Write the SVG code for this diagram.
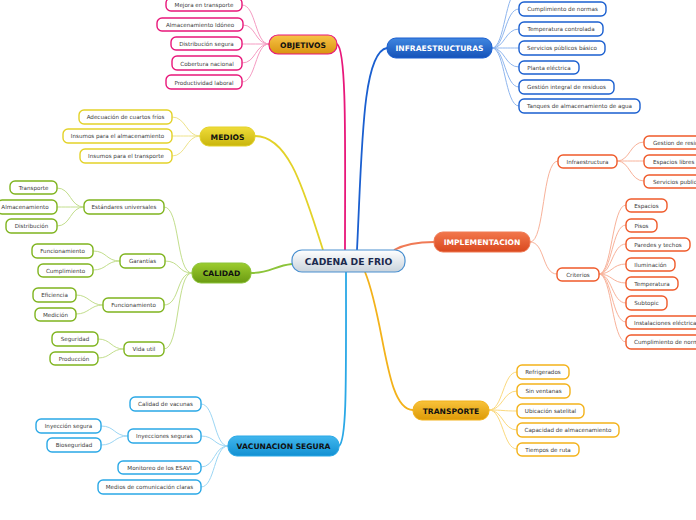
<svg xmlns="http://www.w3.org/2000/svg" width="696" height="520" viewBox="0 0 696 520">
<defs>
<linearGradient id="gC" x1="0" y1="0" x2="0" y2="1"><stop offset="0" stop-color="#ffffff"/><stop offset="1" stop-color="#c9d3dc"/></linearGradient>
<linearGradient id="gObj" x1="0" y1="0" x2="0" y2="1"><stop offset="0" stop-color="#f7c447"/><stop offset="1" stop-color="#d9940f"/></linearGradient>
<linearGradient id="gInf" x1="0" y1="0" x2="0" y2="1"><stop offset="0" stop-color="#3f86e0"/><stop offset="1" stop-color="#1552b8"/></linearGradient>
<linearGradient id="gMed" x1="0" y1="0" x2="0" y2="1"><stop offset="0" stop-color="#efdc3a"/><stop offset="1" stop-color="#c9b50c"/></linearGradient>
<linearGradient id="gCal" x1="0" y1="0" x2="0" y2="1"><stop offset="0" stop-color="#9ccc2e"/><stop offset="1" stop-color="#6a9a12"/></linearGradient>
<linearGradient id="gImp" x1="0" y1="0" x2="0" y2="1"><stop offset="0" stop-color="#f2774c"/><stop offset="1" stop-color="#d9481e"/></linearGradient>
<linearGradient id="gTra" x1="0" y1="0" x2="0" y2="1"><stop offset="0" stop-color="#f8c23a"/><stop offset="1" stop-color="#dd9a06"/></linearGradient>
<linearGradient id="gVac" x1="0" y1="0" x2="0" y2="1"><stop offset="0" stop-color="#41b7ee"/><stop offset="1" stop-color="#1290d2"/></linearGradient>
</defs>
<style>
text{font-family:"DejaVu Sans","Liberation Sans",sans-serif;text-anchor:middle}
.s rect{fill:#fff;stroke-width:1.4}
.s text{font-size:5.6px;fill:#3a3a3a}
.m text{font-size:7.6px;font-weight:bold}
.pk rect{stroke:#e8177a}
.bl rect{stroke:#1a5fd0}
.ye rect{stroke:#e3d228}
.gr rect{stroke:#7fb41e}
.or rect{stroke:#ef5a2a}
.go rect{stroke:#f3b21a}
.cy rect{stroke:#2aa8e6}
#connectors path{fill:none}
.cpk{stroke:#f59bc2;stroke-width:1}
.cbl{stroke:#8fb6ee;stroke-width:1}
.cye{stroke:#eee38a;stroke-width:1}
.cgr{stroke:#c2de8c;stroke-width:1}
.cor{stroke:#f8b29a;stroke-width:1}
.cgo{stroke:#fbd97e;stroke-width:1}
.ccy{stroke:#9cd6f4;stroke-width:1}
</style>
<rect width="696" height="520" fill="#fff"/>
<g id="connectors">
<!-- main branches -->
<path d="M345 250 C345 150 347 50 337 44" stroke="#e8177a" stroke-width="1.8"/>
<path d="M357 250 C362 150 362 52 387 48" stroke="#1a5fd0" stroke-width="1.8"/>
<path d="M255 136 C290 136 305 195 323 250" stroke="#e3d228" stroke-width="1.8"/>
<path d="M251 273 C270 273 274 266 292 264" stroke="#8cc43a" stroke-width="1.8"/>
<path d="M394 250 C405 244 418 242 434 242" stroke="#f07a55" stroke-width="1.8"/>
<path d="M365 272 C385 320 385 410 413 410" stroke="#f3b21a" stroke-width="1.8"/>
<path d="M346 272 C346 380 347 440 339 446" stroke="#2aa8e6" stroke-width="1.8"/>
<!-- OBJETIVOS -->
<path class="cpk" d="M269 44 C255 44 256 5 242 5"/>
<path class="cpk" d="M269 44 C255 44 256 25 243 25"/>
<path class="cpk" d="M269 44 C255 44 256 44 242 44"/>
<path class="cpk" d="M269 44 C255 44 256 63 242 63"/>
<path class="cpk" d="M269 44 C255 44 256 82 242 82"/>
<!-- INFRAESTRUCTURAS -->
<path class="cbl" d="M492 48 C505 48 505 -10 519 -10"/>
<path class="cbl" d="M492 48 C505 48 505 9 519 9"/>
<path class="cbl" d="M492 48 C505 48 505 29 519 29"/>
<path class="cbl" d="M492 48 C505 48 505 48 519 48"/>
<path class="cbl" d="M492 48 C505 48 505 67 519 67"/>
<path class="cbl" d="M492 48 C505 48 505 87 519 87"/>
<path class="cbl" d="M492 48 C505 48 505 106 519 106"/>
<!-- MEDIOS -->
<path class="cye" d="M200 136 C186 136 186 117 172 117"/>
<path class="cye" d="M200 136 C186 136 186 136 172 136"/>
<path class="cye" d="M200 136 C186 136 186 156 172 156"/>
<!-- CALIDAD -->
<path class="cgr" d="M192 273 C176 273 180 207 164 207"/>
<path class="cgr" d="M192 273 C178 273 180 261 165 261"/>
<path class="cgr" d="M192 273 C176 273 180 305 164 305"/>
<path class="cgr" d="M192 273 C176 273 180 349 164 349"/>
<path class="cgr" d="M84 207 C70 207 71 188 57 188"/>
<path class="cgr" d="M84 207 C70 207 71 207 57 207"/>
<path class="cgr" d="M84 207 C70 207 71 226 57 226"/>
<path class="cgr" d="M120 261 C106 261 107 251 93 251"/>
<path class="cgr" d="M120 261 C106 261 107 270 93 270"/>
<path class="cgr" d="M103 305 C90 305 89 295 76 295"/>
<path class="cgr" d="M103 305 C90 305 89 314 76 314"/>
<path class="cgr" d="M124 349 C111 349 111 339 98 339"/>
<path class="cgr" d="M124 349 C111 349 111 358 98 358"/>
<!-- IMPLEMENTACION -->
<path class="cor" d="M530 242 C545 242 542 161 558 161"/>
<path class="cor" d="M530 242 C545 242 542 274 557 274"/>
<path class="cor" d="M617 161 C630 161 630 142 644 142"/>
<path class="cor" d="M617 161 C630 161 630 161 644 161"/>
<path class="cor" d="M617 161 C630 161 630 181 644 181"/>
<path class="cor" d="M599 274 C612 274 612 205 626 205"/>
<path class="cor" d="M599 274 C612 274 612 225 626 225"/>
<path class="cor" d="M599 274 C612 274 612 244 626 244"/>
<path class="cor" d="M599 274 C612 274 612 264 626 264"/>
<path class="cor" d="M599 274 C612 274 612 283 626 283"/>
<path class="cor" d="M599 274 C612 274 612 303 626 303"/>
<path class="cor" d="M599 274 C612 274 612 322 626 322"/>
<path class="cor" d="M599 274 C612 274 612 342 626 342"/>
<!-- TRANSPORTE -->
<path class="cgo" d="M489 410 C503 410 503 372 517 372"/>
<path class="cgo" d="M489 410 C503 410 503 391 517 391"/>
<path class="cgo" d="M489 410 C503 410 503 411 517 411"/>
<path class="cgo" d="M489 410 C503 410 503 430 517 430"/>
<path class="cgo" d="M489 410 C503 410 503 449 517 449"/>
<!-- VACUNACION -->
<path class="ccy" d="M228 446 C214 446 215 404 201 404"/>
<path class="ccy" d="M228 446 C214 446 215 436 201 436"/>
<path class="ccy" d="M228 446 C214 446 215 467 201 467"/>
<path class="ccy" d="M228 446 C214 446 215 487 201 487"/>
<path class="ccy" d="M128 436 C114 436 115 426 101 426"/>
<path class="ccy" d="M128 436 C114 436 115 445 101 445"/>
</g>

<g id="center"><rect x="292" y="250" width="113" height="22" rx="10" fill="url(#gC)" stroke="#4a90d0" stroke-width="1.2"/><text x="348.5" y="264.5" font-size="9.2" font-weight="bold" fill="#1b2a4e">CADENA DE FRIO</text></g>

<g id="objetivos" class="m"><rect x="269" y="35" width="68" height="19" rx="9" fill="url(#gObj)" stroke="#e8177a" stroke-width="1.2"/><text x="303" y="47.5" fill="#111">OBJETIVOS</text></g>
<g id="infraestructuras" class="m"><rect x="387" y="38" width="105" height="20" rx="9" fill="url(#gInf)" stroke="#1a5fd0" stroke-width="1"/><text x="439.5" y="51" fill="#fff">INFRAESTRUCTURAS</text></g>
<g id="medios" class="m"><rect x="200" y="127" width="55" height="19" rx="9" fill="url(#gMed)" stroke="#e3d228" stroke-width="1"/><text x="227.5" y="139.5" fill="#111">MEDIOS</text></g>
<g id="calidad" class="m"><rect x="192" y="263" width="59" height="20" rx="9" fill="url(#gCal)" stroke="#8cc43a" stroke-width="1"/><text x="221.5" y="276" fill="#111">CALIDAD</text></g>
<g id="implementacion" class="m"><rect x="434" y="232" width="96" height="20" rx="9" fill="url(#gImp)" stroke="#f07a55" stroke-width="1"/><text x="482" y="245" fill="#fff">IMPLEMENTACION</text></g>
<g id="transporte" class="m"><rect x="413" y="401" width="76" height="19" rx="9" fill="url(#gTra)" stroke="#f3b21a" stroke-width="1"/><text x="451" y="413.5" fill="#111">TRANSPORTE</text></g>
<g id="vacunacion" class="m"><rect x="228" y="436" width="111" height="20" rx="9" fill="url(#gVac)" stroke="#2aa8e6" stroke-width="1"/><text x="283.5" y="449" fill="#111">VACUNACION SEGURA</text></g>

<!-- OBJETIVOS children -->
<g id="o1" class="s pk"><rect x="166" y="-2" width="76" height="13" rx="5"/><text x="204" y="7">Mejora en transporte</text></g>
<g id="o2" class="s pk"><rect x="157" y="18" width="86" height="13" rx="5"/><text x="200" y="27">Almacenamiento Idóneo</text></g>
<g id="o3" class="s pk"><rect x="171" y="37" width="71" height="13" rx="5"/><text x="206.5" y="46">Distribución segura</text></g>
<g id="o4" class="s pk"><rect x="172" y="56" width="70" height="14" rx="5"/><text x="207" y="65.5">Cobertura nacional</text></g>
<g id="o5" class="s pk"><rect x="166" y="75" width="76" height="14" rx="5"/><text x="204" y="84.5">Productividad laboral</text></g>

<!-- INFRAESTRUCTURAS children -->
<g id="i1" class="s bl"><rect x="519" y="2" width="87" height="14" rx="5"/><text x="562.5" y="11">Cumplimiento de normas</text></g>
<g id="i2" class="s bl"><rect x="519" y="22" width="84" height="14" rx="5"/><text x="561" y="31">Temperatura controlada</text></g>
<g id="i3" class="s bl"><rect x="519" y="41" width="86" height="14" rx="5"/><text x="562" y="50">Servicios públicos básico</text></g>
<g id="i4" class="s bl"><rect x="519" y="61" width="60" height="13" rx="5"/><text x="549" y="69.5">Planta eléctrica</text></g>
<g id="i5" class="s bl"><rect x="519" y="80" width="95" height="14" rx="5"/><text x="566.5" y="89">Gestión integral de residuos</text></g>
<g id="i6" class="s bl"><rect x="519" y="99" width="121" height="14" rx="5"/><text x="579.5" y="108">Tanques de almacenamiento de agua</text></g>

<!-- MEDIOS children -->
<g id="m1" class="s ye"><rect x="79" y="110" width="93" height="14" rx="5"/><text x="125.5" y="119">Adecuación de cuartos fríos</text></g>
<g id="m2" class="s ye"><rect x="63" y="129" width="109" height="14" rx="5"/><text x="117.5" y="138">Insumos para el almacenamiento</text></g>
<g id="m3" class="s ye"><rect x="80" y="149" width="92" height="14" rx="5"/><text x="126" y="158">Insumos para el transporte</text></g>

<!-- CALIDAD children -->
<g id="c1" class="s gr"><rect x="84" y="200" width="80" height="14" rx="5"/><text x="124" y="209">Estándares universales</text></g>
<g id="c1a" class="s gr"><rect x="10" y="181" width="47" height="13" rx="5"/><text x="33.5" y="190">Transporte</text></g>
<g id="c1b" class="s gr"><rect x="-3" y="200" width="60" height="14" rx="5"/><text x="25" y="209">Almacenamiento</text></g>
<g id="c1c" class="s gr"><rect x="6" y="219" width="51" height="14" rx="5"/><text x="31.5" y="228">Distribución</text></g>
<g id="c2" class="s gr"><rect x="120" y="254" width="45" height="14" rx="5"/><text x="142.5" y="263">Garantías</text></g>
<g id="c2a" class="s gr"><rect x="32" y="244" width="61" height="14" rx="5"/><text x="62.5" y="253">Funcionamiento</text></g>
<g id="c2b" class="s gr"><rect x="38" y="264" width="55" height="13" rx="5"/><text x="65.5" y="272.5">Cumplimiento</text></g>
<g id="c3" class="s gr"><rect x="103" y="298" width="61" height="14" rx="5"/><text x="133.5" y="307">Funcionamiento</text></g>
<g id="c3a" class="s gr"><rect x="33" y="288" width="43" height="14" rx="5"/><text x="54.5" y="297">Eficiencia</text></g>
<g id="c3b" class="s gr"><rect x="35" y="308" width="41" height="13" rx="5"/><text x="55.5" y="316.5">Medición</text></g>
<g id="c4" class="s gr"><rect x="124" y="342" width="40" height="14" rx="5"/><text x="144" y="351">Vida util</text></g>
<g id="c4a" class="s gr"><rect x="52" y="332" width="46" height="14" rx="5"/><text x="75" y="341">Seguridad</text></g>
<g id="c4b" class="s gr"><rect x="50" y="352" width="48" height="13" rx="5"/><text x="74" y="360.5">Producción</text></g>

<!-- IMPLEMENTACION children -->
<g id="p1" class="s or"><rect x="558" y="155" width="59" height="13" rx="5"/><text x="587.5" y="163.5">Infraestructura</text></g>
<g id="p1a" class="s or"><rect x="644" y="136" width="70" height="13" rx="5"/><text x="653" y="144.5" style="text-anchor:start">Gestion de residuos</text></g>
<g id="p1b" class="s or"><rect x="644" y="155" width="70" height="13" rx="5"/><text x="653" y="163.5" style="text-anchor:start">Espacios libres</text></g>
<g id="p1c" class="s or"><rect x="644" y="175" width="70" height="13" rx="5"/><text x="653" y="183.5" style="text-anchor:start">Servicios publicos</text></g>
<g id="p2" class="s or"><rect x="557" y="268" width="42" height="13" rx="5"/><text x="578" y="276.5">Criterios</text></g>
<g id="p2a" class="s or"><rect x="626" y="199" width="41" height="13" rx="5"/><text x="646.5" y="207.5">Espacios</text></g>
<g id="p2b" class="s or"><rect x="626" y="219" width="31" height="13" rx="5"/><text x="641.5" y="227.5">Pisos</text></g>
<g id="p2c" class="s or"><rect x="626" y="238" width="64" height="13" rx="5"/><text x="658" y="246.5">Paredes y techos</text></g>
<g id="p2d" class="s or"><rect x="626" y="258" width="49" height="13" rx="5"/><text x="650.5" y="266.5">Iluminación</text></g>
<g id="p2e" class="s or"><rect x="626" y="277" width="52" height="13" rx="5"/><text x="652" y="285.5">Temperatura</text></g>
<g id="p2f" class="s or"><rect x="626" y="296" width="41" height="14" rx="5"/><text x="646.5" y="305">Subtopic</text></g>
<g id="p2g" class="s or"><rect x="626" y="316" width="80" height="13" rx="5"/><text x="634" y="324.5" style="text-anchor:start">Instalaciones eléctricas</text></g>
<g id="p2h" class="s or"><rect x="626" y="335" width="90" height="14" rx="5"/><text x="634" y="344" style="text-anchor:start">Cumplimiento de normas</text></g>

<!-- TRANSPORTE children -->
<g id="t1" class="s go"><rect x="517" y="365" width="52" height="14" rx="5"/><text x="543" y="374">Refrigerados</text></g>
<g id="t2" class="s go"><rect x="517" y="384" width="53" height="14" rx="5"/><text x="543.5" y="393">Sin ventanas</text></g>
<g id="t3" class="s go"><rect x="517" y="404" width="67" height="14" rx="5"/><text x="550.5" y="413">Ubicación satelital</text></g>
<g id="t4" class="s go"><rect x="517" y="423" width="102" height="14" rx="5"/><text x="568" y="432">Capacidad de almacenamiento</text></g>
<g id="t5" class="s go"><rect x="517" y="443" width="62" height="13" rx="5"/><text x="548" y="451.5">Tiempos de ruta</text></g>

<!-- VACUNACION children -->
<g id="v1" class="s cy"><rect x="130" y="397" width="71" height="14" rx="5"/><text x="165.5" y="406">Calidad de vacunas</text></g>
<g id="v2" class="s cy"><rect x="128" y="429" width="73" height="14" rx="5"/><text x="164.5" y="438">Inyecciones seguras</text></g>
<g id="v2a" class="s cy"><rect x="36" y="419" width="65" height="14" rx="5"/><text x="68.5" y="428">Inyección segura</text></g>
<g id="v2b" class="s cy"><rect x="47" y="438" width="54" height="14" rx="5"/><text x="74" y="447">Bioseguridad</text></g>
<g id="v3" class="s cy"><rect x="118" y="461" width="83" height="13" rx="5"/><text x="159.5" y="469.5">Monitoreo de los ESAVI</text></g>
<g id="v4" class="s cy"><rect x="98" y="480" width="103" height="14" rx="5"/><text x="149.5" y="489">Medios de comunicación claras</text></g>
</svg>
